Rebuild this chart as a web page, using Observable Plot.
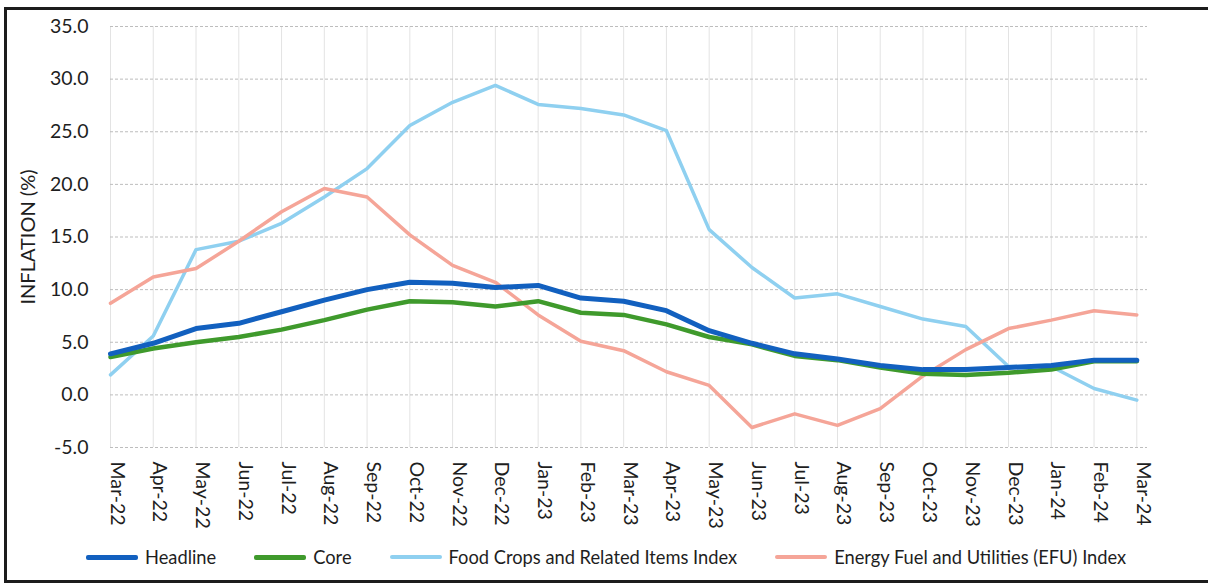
<!DOCTYPE html>
<html>
<head>
<meta charset="utf-8">
<script src="https://cdn.jsdelivr.net/npm/d3@7"></script>
<script src="https://cdn.jsdelivr.net/npm/@observablehq/plot@0.6"></script>
<style>
  html, body { margin: 0; padding: 0; background: #fff; }
  body { width: 1208px; height: 586px; position: relative; overflow: hidden; font-family: Lato, "Open Sans", sans-serif; }
  #frame { position: absolute; left: 4px; top: 7px; width: 1230px; height: 576px; border: 3px solid #1c1c1c; box-sizing: border-box; }
  #chart { position: absolute; left: 0; top: 0; }
  #legend { position: absolute; left: 86px; top: 546px; display: flex; align-items: center; font-size: 18.3px; color: #1e1e1e; }
  .item { display: flex; align-items: center; margin-right: 38px; }
  .sw { width: 52px; margin-right: 7px; border-radius: 2px; }
</style>
</head>
<body>
<div id="frame"></div>
<div id="chart"></div>
<div id="legend"></div>
<script>
const months = ["Mar-22","Apr-22","May-22","Jun-22","Jul-22","Aug-22","Sep-22","Oct-22","Nov-22","Dec-22","Jan-23","Feb-23","Mar-23","Apr-23","May-23","Jun-23","Jul-23","Aug-23","Sep-23","Oct-23","Nov-23","Dec-23","Jan-24","Feb-24","Mar-24"];
const headline = [3.9, 4.9, 6.3, 6.8, 7.9, 9.0, 10.0, 10.7, 10.6, 10.2, 10.4, 9.2, 8.9, 8.0, 6.1, 4.9, 3.9, 3.4, 2.8, 2.4, 2.4, 2.6, 2.8, 3.3, 3.3];
const core = [3.6, 4.4, 5.0, 5.5, 6.2, 7.1, 8.1, 8.9, 8.8, 8.4, 8.9, 7.8, 7.6, 6.7, 5.5, 4.8, 3.7, 3.3, 2.6, 2.0, 1.9, 2.1, 2.4, 3.2, 3.2];
const food = [1.9, 5.6, 13.8, 14.6, 16.3, 18.8, 21.5, 25.6, 27.8, 29.4, 27.6, 27.2, 26.6, 25.1, 15.7, 12.1, 9.2, 9.6, 8.4, 7.2, 6.5, 2.7, 2.7, 0.6, -0.5];
const energy = [8.7, 11.2, 12.0, 14.6, 17.4, 19.6, 18.8, 15.2, 12.3, 10.7, 7.6, 5.1, 4.2, 2.2, 0.9, -3.1, -1.8, -2.9, -1.3, 1.8, 4.3, 6.3, 7.1, 8.0, 7.6];
const yTicks = [-5, 0, 5, 10, 15, 20, 25, 30, 35];
const seriesNames = ["Headline", "Core", "Food Crops and Related Items Index", "Energy Fuel and Utilities (EFU) Index"];
const seriesColors = ["#1260bf", "#3f9a2c", "#8fd0f0", "#f5a598"];
const seriesWidths = [5, 4.5, 3.5, 3.5];
const seriesValues = [headline, core, food, energy];

const rows = (vals) => vals.map((v, i) => ({i, v}));
const drawOrder = [2, 3, 1, 0];

const chart = Plot.plot({
  width: 1208,
  height: 530,
  marginLeft: 110,
  marginRight: 61,
  marginTop: 26,
  marginBottom: 83,
  style: { fontFamily: "Lato, 'Open Sans', sans-serif", fontSize: "19.5px", color: "#1e1e1e", background: "transparent", overflow: "visible" },
  x: { type: "linear", domain: [0, 24.25], axis: null },
  y: { domain: [-5, 35], axis: null },
  marks: [
    Plot.ruleX(d3.range(months.length), { stroke: "#e3e3e3", strokeWidth: 1 }),
    Plot.ruleY(yTicks, { stroke: "#bdbdbd", strokeWidth: 1, strokeDasharray: "3,2" }),
    Plot.axisY({ ticks: yTicks, tickFormat: d => d.toFixed(1), tickSize: 0, tickPadding: 22, label: null, fontSize: 19.5 }),
    ...drawOrder.map(k => Plot.line(rows(seriesValues[k]), {
      x: "i", y: "v", stroke: seriesColors[k], strokeWidth: seriesWidths[k], strokeLinejoin: "round", strokeLinecap: "round"
    })),
    Plot.text(months, { x: (d, i) => i, text: d => d, frameAnchor: "bottom", dy: 14, rotate: 90, textAnchor: "start", fontSize: 19.5, fill: "#1e1e1e" }),
    Plot.text(["INFLATION (%)"], { frameAnchor: "left", dx: -82, rotate: -90, textAnchor: "middle", fontSize: 20, fill: "#1e1e1e" })
  ]
});
document.getElementById("chart").appendChild(chart);

const legend = document.getElementById("legend");
seriesNames.forEach((name, k) => {
  const item = document.createElement("div");
  item.className = "item";
  const sw = document.createElement("div");
  sw.className = "sw";
  sw.style.height = (k < 2 ? 5 : 4) + "px";
  sw.style.background = seriesColors[k];
  const t = document.createElement("span");
  t.textContent = name;
  item.appendChild(sw);
  item.appendChild(t);
  legend.appendChild(item);
});
</script>
</body>
</html>
